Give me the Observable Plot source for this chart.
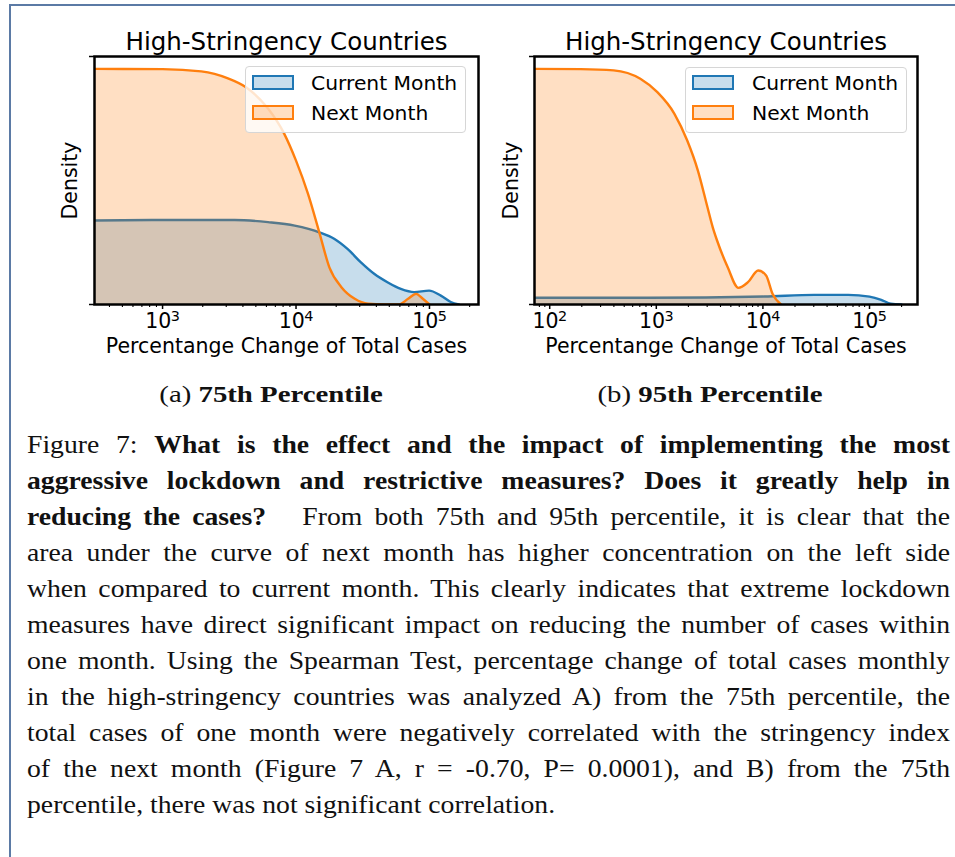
<!DOCTYPE html>
<html><head><meta charset="utf-8">
<script src="https://cdn.jsdelivr.net/npm/d3@7"></script>
<script src="https://cdn.jsdelivr.net/npm/@observablehq/plot@0.6"></script>
<style>
body{margin:0;background:#fff;}
#page{position:relative;width:955px;height:857px;overflow:hidden;background:#fff;}
.border{position:absolute;z-index:10;left:9px;top:4px;width:960px;height:870px;border-left:2px solid #5b7aa5;border-top:2px solid #5b7aa5;pointer-events:none;}
.panel{position:absolute;top:0;}
.legend{position:absolute;box-sizing:border-box;background:rgba(255,255,255,0.8);border:1px solid #d6d6d6;border-radius:4px;}
.sw{position:absolute;box-sizing:border-box;width:42px;height:15px;border:2px solid;}
.lt{position:absolute;white-space:nowrap;line-height:1;font-family:"DejaVu Sans";font-size:20.3px;color:#000;}
.sub{position:absolute;top:381.6px;width:300px;text-align:center;font-family:"Liberation Serif";font-size:24px;line-height:1;color:#111;white-space:nowrap;transform:scaleX(1.2);transform-origin:center top;}
.cap{position:absolute;left:27px;width:816.8px;top:426.7px;font-family:"Liberation Serif";font-size:24.5px;line-height:36px;color:#111;transform:scaleX(1.13);transform-origin:left top;}
.cap .j{text-align:justify;text-align-last:justify;}
</style>
</head><body>
<div id="page">
  <div class="border"></div>
</div>
<script>
// ---- Data ----
const titleText = "High-Stringency Countries";
const xLabel = "Percentange Change of Total Cases";
const yLabel = "Density";
const seriesNames = ["Current Month", "Next Month"];
const seriesColors = ["#1f77b4", "#ff7f0e"];

// Panel (a) 75th percentile
const aCurrentX = [310, 1000, 3470, 6170, 9770, 15100, 19300, 24300, 30500, 38500, 48400, 61000, 76700, 99300, 121600, 144500, 166000];
const aCurrentY = [0.339, 0.341, 0.341, 0.332, 0.318, 0.29, 0.265, 0.224, 0.171, 0.124, 0.09, 0.063, 0.05, 0.056, 0.036, 0.01, 0];
const aNextX = [310, 1000, 1950, 3090, 4220, 6170, 8130, 10000, 12300, 14960, 17780, 21880, 27540, 34670, 45710, 58880, 69180, 79430, 89130, 100000];
const aNextY = [0.95, 0.949, 0.94, 0.912, 0.876, 0.79, 0.69, 0.58, 0.446, 0.29, 0.15, 0.07, 0.023, 0.003, 0, 0, 0.023, 0.043, 0.023, 0];
const aDomain = [309, 233000];
const aMajorTicks = [1e3, 1e4, 1e5];

// Panel (b) 95th percentile
const bCurrentX = [72, 832, 10230, 30200, 63100, 100000, 128800, 158500, 199500];
const bCurrentY = [0.027, 0.027, 0.032, 0.039, 0.039, 0.032, 0.019, 0.003, 0];
const bNextX = [72, 195, 398, 708, 1023, 1479, 1950, 2455, 3020, 3390, 3715, 4677, 5888, 7244, 9036, 10715, 12303, 14791];
const bNextY = [0.95, 0.949, 0.944, 0.91, 0.856, 0.769, 0.661, 0.54, 0.392, 0.31, 0.258, 0.15, 0.067, 0.09, 0.137, 0.117, 0.043, 0];
const bDomain = [72, 282000];
const bMajorTicks = [1e2, 1e3, 1e4, 1e5];

const subcaptions = [["(a) ", "75th Percentile"], ["(b) ", "95th Percentile"]];

// ---- Helpers ----
const expOf = v => String(Math.round(Math.log10(v)));
function minorTicks(domain) {
  const out = [];
  for (let e = 0; e <= 6; e++) for (let m = 2; m <= 9; m++) {
    const v = m * 10 ** e;
    if (v >= domain[0] && v <= domain[1]) out.push(v);
  }
  return out;
}

function panel({curX, curY, nextX, nextY, domain, majors, width, mLeft, mRight, densityDx}) {
  const cur = curX.map((x, i) => ({x, y: curY[i]}));
  const next = nextX.map((x, i) => ({x, y: nextY[i]}));
  return Plot.plot({
    width, height: 365,
    marginLeft: mLeft, marginRight: mRight, marginTop: 56, marginBottom: 61,
    style: {fontFamily: "DejaVu Sans", fontSize: "20.5px", background: "transparent", overflow: "visible", color: "black"},
    x: {type: "log", domain},
    y: {domain: [0, 1]},
    marks: [
      Plot.areaY(cur, {x: "x", y: "y", fill: seriesColors[0], fillOpacity: 0.25, curve: "monotone-x", clip: true}),
      Plot.lineY(cur, {x: "x", y: "y", stroke: seriesColors[0], strokeWidth: 2.4, curve: "monotone-x", clip: true}),
      Plot.areaY(next, {x: "x", y: "y", fill: seriesColors[1], fillOpacity: 0.25, curve: "monotone-x", clip: true}),
      Plot.lineY(next, {x: "x", y: "y", stroke: seriesColors[1], strokeWidth: 2.4, curve: "monotone-x", clip: true}),
      Plot.axisX({ticks: minorTicks(domain), tickSize: 3, tickFormat: () => "", label: null, strokeWidth: 1.1}),
      Plot.axisX({ticks: majors, tickSize: 5, tickFormat: () => "", label: null, strokeWidth: 1.5}),
      Plot.text(majors, {x: d => d, text: () => "10", frameAnchor: "bottom", dy: 17.4, dx: -4.2, fontSize: 20.5, textAnchor: "middle", lineAnchor: "middle"}),
      Plot.text(majors, {x: d => d, text: expOf, frameAnchor: "bottom", dy: 11.9, dx: 8.3, fontSize: 14.4, textAnchor: "start", lineAnchor: "middle"}),
      Plot.axisY({ticks: [0, 1], tickSize: 5, tickFormat: () => "", label: null, strokeWidth: 1.5}),
      Plot.frame({stroke: "black", strokeWidth: 2.5}),
      Plot.text([titleText], {frameAnchor: "top", dy: -14.8, fontSize: 24.5, textAnchor: "middle", lineAnchor: "middle"}),
      Plot.text([xLabel], {frameAnchor: "bottom", dy: 42.4, fontSize: 20.5, textAnchor: "middle", lineAnchor: "middle"}),
      Plot.text([yLabel], {frameAnchor: "left", dx: densityDx, rotate: -90, fontSize: 20.5, textAnchor: "middle", lineAnchor: "middle"})
    ]
  });
}

const page = document.getElementById("page");

function place(el, left) {
  const wrap = document.createElement("div");
  wrap.className = "panel";
  wrap.style.left = left + "px";
  wrap.appendChild(el);
  page.appendChild(wrap);
}

place(panel({curX: aCurrentX, curY: aCurrentY, nextX: aNextX, nextY: aNextY, domain: aDomain, majors: aMajorTicks,
  width: 480, mLeft: 94, mRight: 2, densityDx: -24}), 0);
place(panel({curX: bCurrentX, curY: bCurrentY, nextX: bNextX, nextY: bNextY, domain: bDomain, majors: bMajorTicks,
  width: 475, mLeft: 54, mRight: 38, densityDx: -23}), 480);

// Legends
function legend(box, swLeft, textLeft) {
  const lg = document.createElement("div");
  lg.className = "legend";
  Object.assign(lg.style, {left: box[0] + "px", top: box[1] + "px", width: box[2] + "px", height: box[3] + "px"});
  page.appendChild(lg);
  const fills = ["rgba(31,119,180,0.25)", "rgba(255,127,14,0.25)"];
  seriesNames.forEach((name, i) => {
    const sw = document.createElement("div");
    sw.className = "sw";
    Object.assign(sw.style, {left: swLeft + "px", top: (75 + 30 * i) + "px", borderColor: seriesColors[i], background: fills[i]});
    page.appendChild(sw);
    const t = document.createElement("div");
    t.className = "lt";
    t.textContent = name;
    Object.assign(t.style, {left: textLeft + "px", top: (72.8 + 30 * i) + "px"});
    page.appendChild(t);
  });
}
legend([245, 66, 221, 67], 252, 311);
legend([685, 67, 222, 66], 692, 752);

// Subcaptions
[[121, 0], [560, 1]].forEach(([left, i]) => {
  const d = document.createElement("div");
  d.className = "sub";
  d.style.left = left + "px";
  d.innerHTML = subcaptions[i][0] + "<b>" + subcaptions[i][1] + "</b>";
  page.appendChild(d);
});

// Figure caption
const captionLines = [
  'Figure 7: <b>What is the effect and the impact of implementing the most</b>',
  '<b>aggressive lockdown and restrictive measures? Does it greatly help in</b>',
  '<b>reducing the cases?</b> &nbsp; From both 75th and 95th percentile, it is clear that the',
  'area under the curve of next month has higher concentration on the left side',
  'when compared to current month. This clearly indicates that extreme lockdown',
  'measures have direct significant impact on reducing the number of cases within',
  'one month. Using the Spearman Test, percentage change of total cases monthly',
  'in the high-stringency countries was analyzed A) from the 75th percentile, the',
  'total cases of one month were negatively correlated with the stringency index',
  'of the next month (Figure 7 A, r = -0.70, P= 0.0001), and B) from the 75th',
  'percentile, there was not significant correlation.'
];
const cap = document.createElement("div");
cap.className = "cap";
captionLines.forEach((l, i) => {
  const d = document.createElement("div");
  if (i < captionLines.length - 1) d.className = "j";
  d.innerHTML = l;
  cap.appendChild(d);
});
page.appendChild(cap);
</script>
</body></html>
